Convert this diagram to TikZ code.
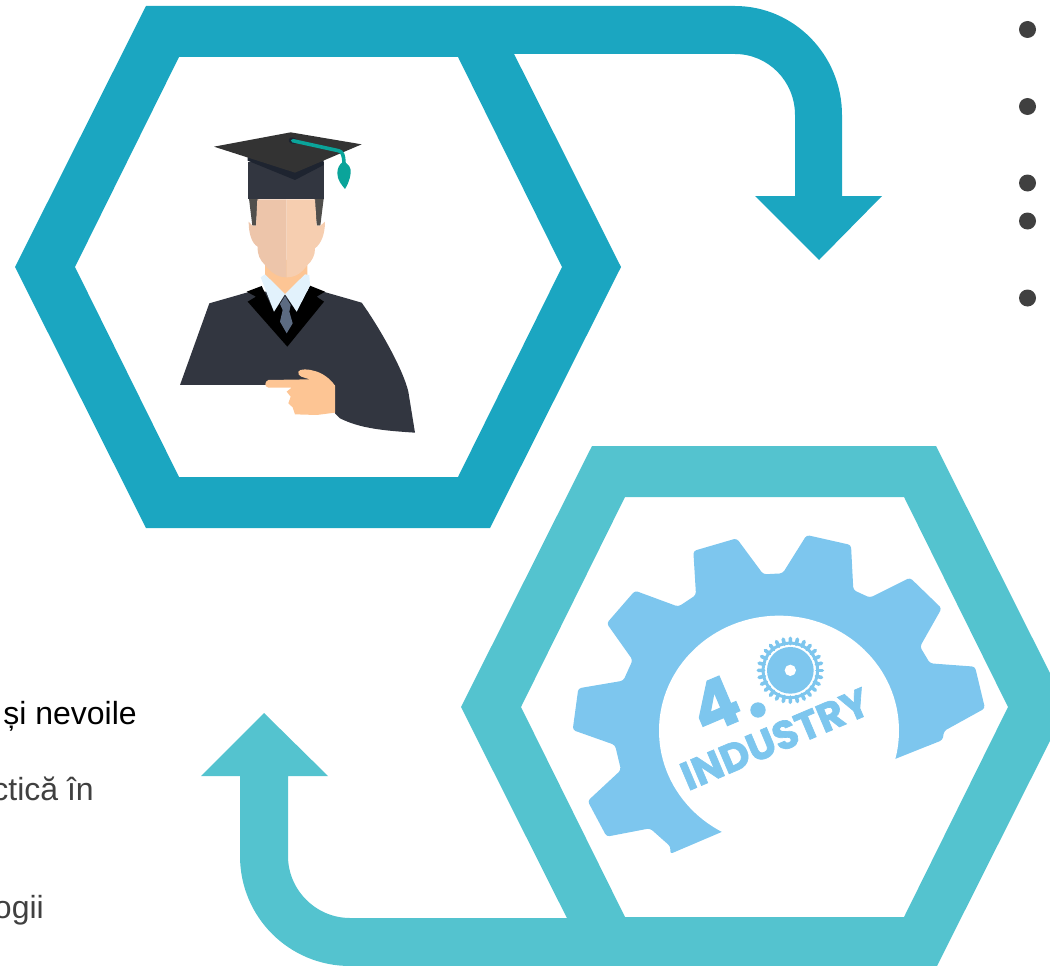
\documentclass[tikz,border=0pt]{standalone}
\usepackage{fontspec}
\setmainfont{Liberation Sans}
\newfontfamily\gearfont[FakeBold=1.6]{Poppins}
\definecolor{hexblue}{HTML}{1BA6C1}
\definecolor{hexteal}{HTML}{54C3CF}
\definecolor{gearblue}{HTML}{7DC6EE}
\definecolor{gowndark}{HTML}{323640}
\definecolor{capdark}{HTML}{333333}
\definecolor{capshade}{HTML}{1E2430}
\definecolor{hairgray}{HTML}{504F4C}
\definecolor{skinleft}{HTML}{EDC5AA}
\definecolor{skinright}{HTML}{F6CEB0}
\definecolor{skinhand}{HTML}{FDC594}
\definecolor{collarblue}{HTML}{E2F2FC}
\definecolor{tiegray}{HTML}{5C6B82}
\definecolor{tasselteal}{HTML}{0AA49A}
\definecolor{textgray}{HTML}{404040}
\def\HexW{172}
\def\HexH{261}
\def\HexTip{303}
\tikzset{
	ringfill/.style={even odd rule,fill=#1},
	bulletdot/.style={circle,fill=textgray,inner sep=0pt,minimum size=17pt},
	sidetext/.style={anchor=base east,inner sep=0pt,font=\fontsize{32}{32}\selectfont}
}
\begin{document}
\begin{tikzpicture}[x=1pt,y=-1pt]
	\useasboundingbox (0,0) rectangle (1050,966);
	\clip (0,0) rectangle (1050,966);
	% hexagon rings
	\foreach \cx/\cy/\col in {318/267/hexblue,764/707/hexteal}{
		\path[ringfill=\col,shift={(\cx,\cy)}]
			(-\HexW,-\HexH) -- (\HexW,-\HexH) -- (\HexTip,0) -- (\HexW,\HexH) -- (-\HexW,\HexH) -- (-\HexTip,0) -- cycle
			(-139,-210) -- (140,-210) -- (244,0) -- (140,210) -- (-139,210) -- (-243,0) -- cycle;
	}
	% arrows
	\fill[hexblue] (490,6) -- (735,6) .. controls (794,6) and (842,55) .. (842,115) -- (842,196) -- (882,196)
		-- (819,260) -- (755,196) -- (795,196) -- (795,115) .. controls (795,81) and (768,54) .. (735,54) -- (490,54) -- cycle;
	\fill[hexteal] (600,966) -- (350,966) .. controls (289,966) and (240,917) .. (240,856) -- (240,776) -- (201,776)
		-- (264,713) -- (328,776) -- (288,776) -- (288,856) .. controls (288,890) and (316,918) .. (350,918) -- (600,918) -- cycle;
	% bullets
	\foreach \n/\y in {1/29.5,2/106.5,3/183,4/221,5/298}{
		\node[bulletdot] (dot\n) at (1027.5,\y) {};
	}
	% cut off text
	\node[sidetext,text=black] (txta) at (137,724) {și nevoile};
	\node[sidetext,text=textgray] (txtb) at (94,800) {ctică în};
	\node[sidetext,text=textgray] (txtc) at (44,918) {ogii};
	% graduate
	\begin{scope}[shift={(170,120)},scale=1/3]
		\fill[gowndark] (30,795) -- (118,550) -- (240,515) -- (460,515) -- (575,548) .. controls (630,625) and (700,750) .. (715,815)
			-- (735,938) .. controls (640,932) and (570,925) .. (510,895) -- (495,880) -- (495,795) -- cycle;
		\fill[skinhand] (285,420) -- (412,420) -- (412,470) -- (345,525) -- (285,470) -- cycle;
		\fill[hairgray] (237,236) -- (265,236) -- (258,317) -- (247,317) -- cycle;
		\fill[hairgray] (461,236) -- (433,236) -- (440,317) -- (451,317) -- cycle;
		\fill[skinleft] (350,238) -- (262,238) -- (258,317) -- (247,317) -- (236,305) .. controls (236,340) and (245,370) .. (263,380)
			.. controls (262,405) and (270,420) .. (285,435) .. controls (305,460) and (325,472) .. (350,472) -- cycle;
		\fill[skinright] (350,238) -- (435,238) -- (440,317) -- (451,317) -- (465,305) .. controls (465,340) and (455,370) .. (435,385)
			.. controls (436,405) and (425,425) .. (412,435) .. controls (395,460) and (375,472) .. (350,472) -- cycle;
		\fill[black] (230,515) -- (275,498) -- (312,575) -- (345,528) -- (380,575) -- (420,497) -- (465,515) -- (440,530)
			-- (462,545) -- (352,680) -- (233,545) -- (258,530) -- cycle;
		\fill[collarblue] (272,472) -- (285,463) -- (345,522) -- (312,575) -- cycle;
		\fill[collarblue] (418,465) -- (420,497) -- (380,575) -- (345,522) -- (405,463) -- cycle;
		\fill[tiegray] (345,528) -- (362,555) -- (358,575) -- (368,610) -- (350,640) -- (330,605) -- (338,570) -- (330,552) -- cycle;
		\fill[skinhand] (295,780) -- (420,778) .. controls (400,772) and (382,770) .. (385,755) .. controls (388,745) and (420,748) .. (430,752)
			.. controls (455,757) and (480,775) .. (495,797) -- (495,878) -- (440,885) -- (375,883) -- (368,862) -- (355,850) -- (362,830) -- (350,815) -- (365,803)
			-- (295,803) .. controls (283,800) and (283,785) .. (295,780) -- cycle;
		\fill[gowndark] (233,125) rectangle (461,238);
		\fill[capshade] (233,122) -- (375,180) -- (461,135) -- (461,110) -- (233,110) -- cycle;
		\fill[capdark] (132,80) -- (362,37) -- (575,73) -- (375,158) -- cycle;
		\draw[capshade,line width=6pt,line cap=round] (365,61) -- (372,63);
		\draw[tasselteal,line width=3.6pt,line cap=round] (368,62) -- (505,92) .. controls (518,95) and (521,105) .. (522,130);
		\fill[tasselteal] (520,125) .. controls (535,130) and (545,145) .. (542,160) .. controls (540,180) and (530,200) .. (525,207)
			.. controls (515,195) and (502,180) .. (502,160) .. controls (502,145) and (508,132) .. (520,125) -- cycle;
	\end{scope}
	% gear
	\begin{scope}[shift={(560,525)},scale=1/3]
		\fill[gearblue,rounded corners=3pt] (1005,702) -- (1148,645) -- (1152,618) -- (1275,550) -- (1245,425) -- (1110,415) -- (1080,365)
			-- (1145,250) -- (1050,158) -- (930,218) -- (880,195) -- (873,60) -- (740,30) -- (668,145) -- (610,148) -- (530,40) -- (400,78)
			-- (408,210) -- (355,245) -- (225,197) -- (140,295) -- (218,405) -- (190,467) -- (55,490) -- (38,615) -- (165,660) -- (183,735)
			-- (83,828) -- (140,935) -- (270,910) -- (332,965) -- (330,987) -- (487,920) -- cycle;
		\fill[white] (657,617) ellipse [x radius=360,y radius=345];
		% small gear
		\foreach \a in {0,12.857,...,350}{
			\draw[gearblue,line width=3.6pt,line cap=round] (691,436) ++(\a:80) -- ++(\a:16);
		}
		\draw[gearblue,line width=3pt] (691,436) circle [radius=82];
		\fill[gearblue] (691,436) circle [radius=70];
		\fill[white] (691,436) circle [radius=17];
		\fill[gearblue] (594,555) circle [radius=23];
		\node[rotate=23,inner sep=0pt,text=gearblue,font=\gearfont\bfseries\fontsize{68}{68}\selectfont] (four) at (465,538) {4};
		\node[rotate=23,inner sep=0pt,text=gearblue,font=\gearfont\bfseries\fontsize{40}{40}\selectfont] (industry) at (645,642) {INDUSTRY};
	\end{scope}
\end{tikzpicture}
\end{document}
